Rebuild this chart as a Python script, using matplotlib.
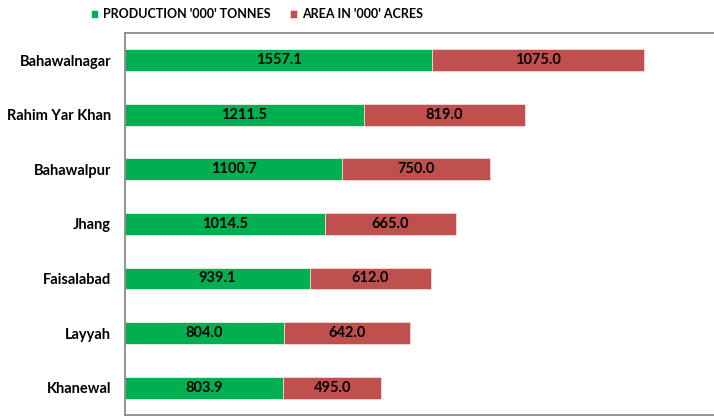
import matplotlib.pyplot as plt

districts = ['Bahawalnagar', 'Rahim Yar Khan', 'Bahawalpur', 'Jhang', 'Faisalabad', 'Layyah', 'Khanewal']
production = [1557.1, 1211.5, 1100.7, 1014.5, 939.1, 804.0, 803.9]
area = [1075.0, 819.0, 750.0, 665.0, 612.0, 642.0, 495.0]

green = '#00B050'
red = '#C0504D'

plt.rcParams['font.family'] = ['Lato', 'DejaVu Sans']

fig = plt.figure(figsize=(7.14, 4.17), dpi=100)
ax = fig.add_axes([0.175, 0.005, 0.825, 0.916])

y = list(range(len(districts)))
ax.barh(y, production, height=0.4, color=green, edgecolor='#e8f5ec', linewidth=0.6,
        label="PRODUCTION '000' TONNES")
ax.barh(y, area, left=production, height=0.4, color=red, edgecolor='#f0dada', linewidth=0.6,
        label="AREA IN '000' ACRES")

for i in y:
    ax.text(production[i] / 2, i, f'{production[i]:.1f}', ha='center', va='center',
            fontsize=10.5, fontweight='bold', color='black')
    ax.text(production[i] + area[i] / 2, i, f'{area[i]:.1f}', ha='center', va='center',
            fontsize=10.5, fontweight='bold', color='black')

ax.set_ylim(len(districts) - 0.5, -0.5)
ax.set_xlim(0, 2987)
ax.set_yticks(y)
ax.set_yticklabels(districts, fontsize=10.5, fontweight='bold')
ax.tick_params(axis='y', length=0, pad=10)
ax.set_xticks([])

for s in ['left', 'bottom', 'top']:
    ax.spines[s].set_color('#808080')
    ax.spines[s].set_linewidth(1.2)
ax.spines['right'].set_visible(False)

leg = fig.legend(loc='center', bbox_to_anchor=(0.36, 0.966), ncol=2, frameon=False,
                 handlelength=0.6, handleheight=0.6, handletextpad=0.4,
                 columnspacing=1.5, prop={'weight': 'bold', 'size': 9})

fig.savefig('out.png', dpi=100)
